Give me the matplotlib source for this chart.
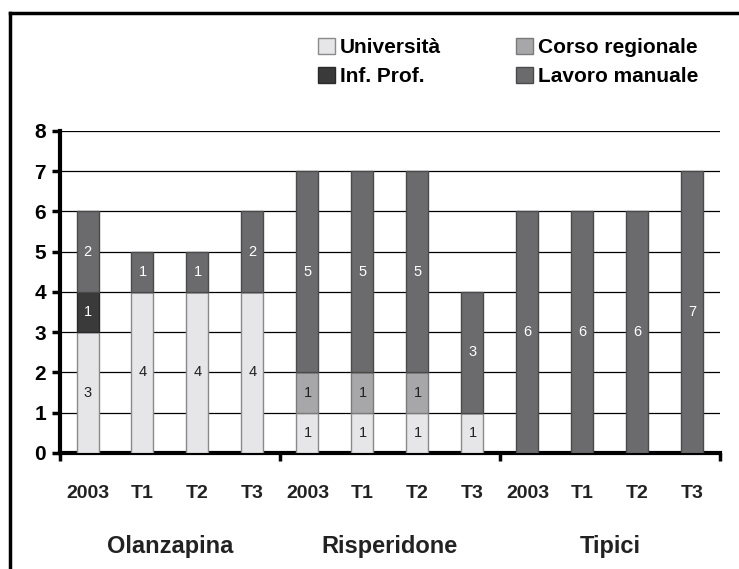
import numpy as np
import matplotlib
matplotlib.use("Agg")
import matplotlib.pyplot as plt
from matplotlib.lines import Line2D

plt.rcParams['font.family'] = ['Liberation Sans', 'DejaVu Sans']

groups = ['Olanzapina', 'Risperidone', 'Tipici']
times = ['2003', 'T1', 'T2', 'T3']
tick_labels = times * 3

series = ['Università', 'Corso regionale', 'Inf. Prof.', 'Lavoro manuale']
universita = [3, 4, 4, 4, 1, 1, 1, 1, 0, 0, 0, 0]
corso_regionale = [0, 0, 0, 0, 1, 1, 1, 0, 0, 0, 0, 0]
inf_prof = [1, 0, 0, 0, 0, 0, 0, 0, 0, 0, 0, 0]
lavoro_manuale = [2, 1, 1, 2, 5, 5, 5, 3, 6, 6, 6, 7]

values = [universita, corso_regionale, inf_prof, lavoro_manuale]
colors = ['#e6e6e8', '#a7a7a9', '#3a3a3a', '#6b6b6e']
edges = ['#8a8a8a', '#7a7a7a', '#2a2a2a', '#4a4a4a']
text_colors = ['#222222', '#222222', 'white', 'white']

fig = plt.figure(figsize=(7.39, 5.69), dpi=100)
ax = fig.add_axes([0.0812, 0.2039, 0.8930, 0.5659])

x = np.arange(len(tick_labels)) + 0.5
bottom = np.zeros(len(x))
handles = []
for name, vals, c, ec, tc in zip(series, values, colors, edges, text_colors):
    vals = np.array(vals, dtype=float)
    bars = ax.bar(x, vals, width=0.4, bottom=bottom, color=c, edgecolor=ec,
                  linewidth=1, label=name, zorder=3)
    handles.append(bars)
    for xi, b, v in zip(x, bottom, vals):
        if v > 0:
            ax.text(xi, b + v / 2, str(int(v)), ha='center', va='center',
                    fontsize=10.5, color=tc, zorder=4)
    bottom += vals

ax.set_xlim(0, 12)
ax.set_ylim(0, 8)
ax.set_yticks(range(9))
ax.yaxis.grid(True, color='black', linewidth=0.9, zorder=0)
ax.set_axisbelow(True)
ax.set_xticks([0, 4, 8, 12])
ax.set_xticklabels([])
ax.tick_params(axis='x', direction='out', length=6, width=2.5)
ax.tick_params(axis='y', direction='out', length=6, width=2.5, pad=4,
               labelsize=15)
for lbl in ax.get_yticklabels():
    lbl.set_fontweight('bold')
for s in ['top', 'right']:
    ax.spines[s].set_visible(False)
ax.spines['left'].set_linewidth(3)
ax.spines['bottom'].set_linewidth(3)

for xi, t in zip(x, tick_labels):
    ax.text(xi, -1.0, t, ha='center', va='center', fontsize=14,
            fontweight='bold', color='#222222', clip_on=False)
for gi, g in enumerate(groups):
    ax.text(gi * 4 + 2, -2.32, g, ha='center', va='center', fontsize=17,
            fontweight='bold', color='#222222', clip_on=False)

order = [0, 2, 1, 3]
fig.legend([handles[i] for i in order], [series[i] for i in order],
           ncol=2, loc='upper left', bbox_to_anchor=(0.405, 0.966),
           frameon=False, handlelength=0.8, handleheight=0.8,
           handletextpad=0.25, columnspacing=3.6, labelspacing=0.45,
           prop={'weight': 'bold', 'size': 15})

fig.add_artist(Line2D([0.0142, 0.0142], [0.0, 0.977], color='black',
                      linewidth=2.5, transform=fig.transFigure))
fig.add_artist(Line2D([0.0142, 1.0], [0.977, 0.977], color='black',
                      linewidth=2.5, transform=fig.transFigure))

fig.savefig('out.png', dpi=100)
